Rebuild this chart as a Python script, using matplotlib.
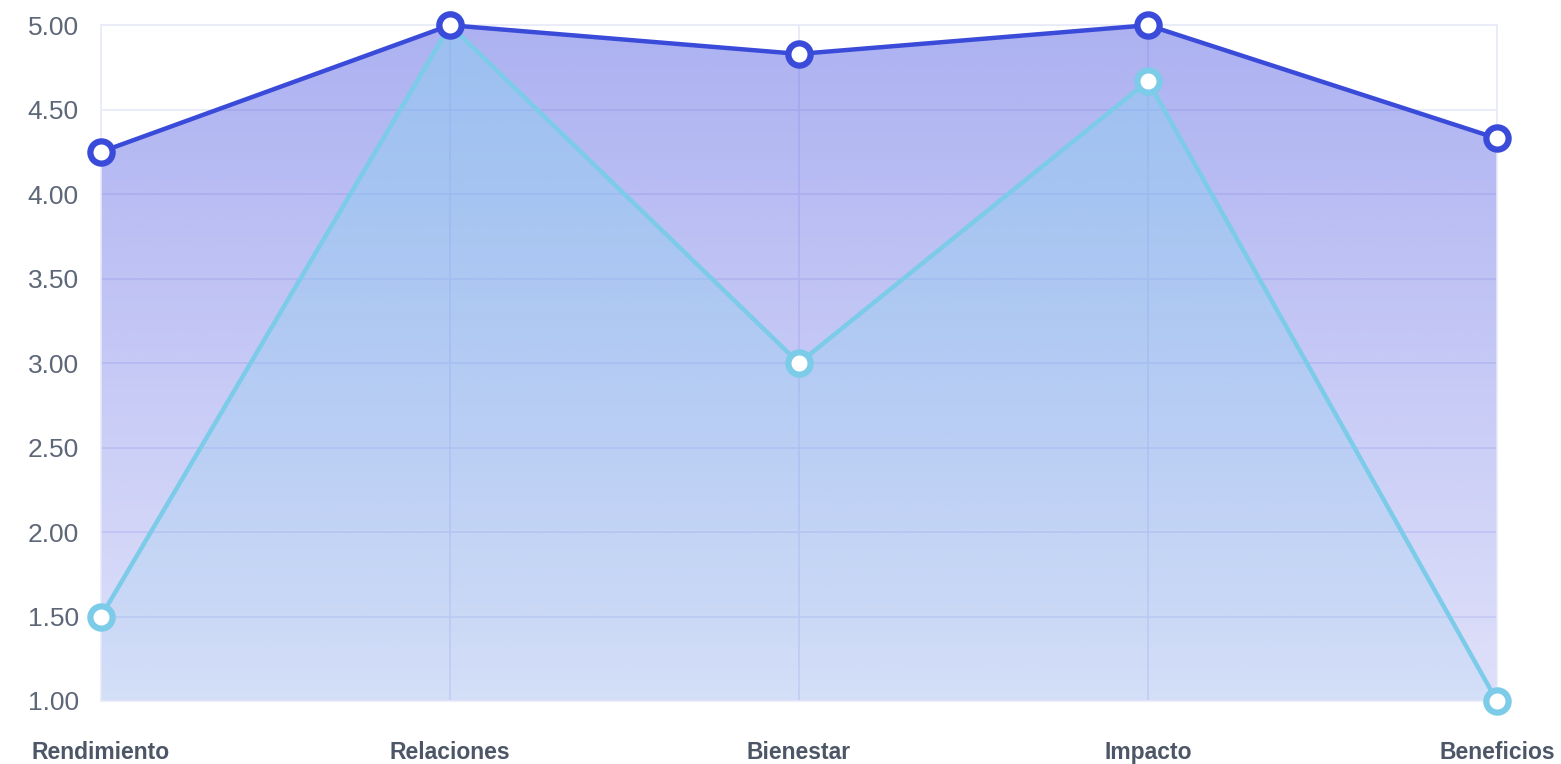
import numpy as np
import matplotlib.pyplot as plt
from matplotlib.colors import to_rgb

categories = ['Rendimiento', 'Relaciones', 'Bienestar', 'Impacto', 'Beneficios']
serie_a = [4.25, 5.00, 4.83, 5.00, 4.33]
serie_b = [1.50, 5.00, 3.00, 4.67, 1.00]
yticks = [1.0, 1.5, 2.0, 2.5, 3.0, 3.5, 4.0, 4.5, 5.0]

color_a = '#3a4bd9'
color_b = '#7ccbe8'

fig = plt.figure(figsize=(15.61, 7.64), dpi=100)
ax = fig.add_axes([0.0647, 0.0825, 0.8943, 0.8845])

x = np.arange(len(categories))
ax.set_xlim(0, len(categories) - 1)
ax.set_ylim(1, 5)


# gradient fill under a line, clipped to the area polygon
def gradient_fill(xs, ys, rgb, a_top, a_bot, z):
    poly = ax.fill_between(xs, ys, 1, color='none', lw=0)
    grad = np.linspace(a_top, a_bot, 256)
    img = np.zeros((256, 1, 4))
    img[:, 0, :3] = to_rgb(rgb)
    img[:, 0, 3] = grad
    im = ax.imshow(img, extent=[xs[0], xs[-1], 1, 5], aspect='auto',
                   origin='upper', zorder=z)
    path = poly.get_paths()[0]
    im.set_clip_path(path, transform=ax.transData)


gradient_fill(x, serie_a, '#4b55e1', 0.46, 0.18, 1)
gradient_fill(x, serie_b, '#87d2f0', 0.45, 0.12, 2)

ax.plot(x, serie_a, color=color_a, lw=3.2, zorder=4, marker='o', ms=16,
        mfc='white', mec=color_a, mew=4.5, clip_on=False)
ax.plot(x, serie_b, color=color_b, lw=3.2, zorder=3, marker='o', ms=16,
        mfc='white', mec=color_b, mew=4.5, clip_on=False)

ax.set_yticks(yticks)
ax.set_yticklabels([f'{v:.2f}' for v in yticks])
ax.set_xticks(x)
ax.set_xticklabels(categories, fontweight='bold')
ax.tick_params(axis='y', length=0, pad=16, labelsize=19, labelcolor='#5d6778')
ax.tick_params(axis='x', length=0, pad=29, labelsize=16.5, labelcolor='#4d5666')
for lab in ax.get_xticklabels() + ax.get_yticklabels():
    lab.set_fontfamily('Liberation Sans')

ax.grid(True, color='#e6e8f8', lw=1.2, zorder=0)
ax.set_axisbelow(True)
for s in ax.spines.values():
    s.set_color('#e8eaf8')
    s.set_linewidth(1.2)

fig.savefig('out.png', dpi=100)
